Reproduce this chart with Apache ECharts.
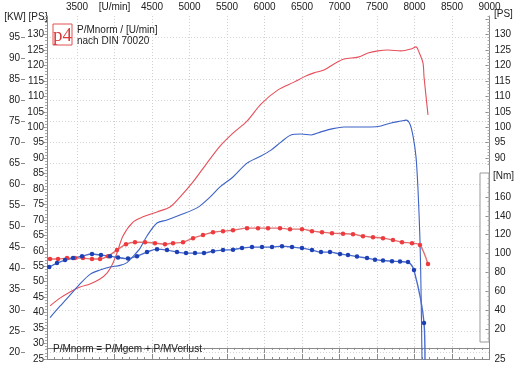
<!DOCTYPE html>
<html><head><meta charset="utf-8">
<script src="https://cdn.jsdelivr.net/npm/echarts@6/dist/echarts.min.js"></script>
<style>html,body{margin:0;padding:0;background:#fff}#c{width:522px;height:366px}</style>
</head><body><div id="c"></div>
<script>
// ---- data ----
const rpmMajor = [3500,4000,4500,5000,5500,6000,6500,7000,7500,8000,8500,9000];
const psLeftLabels = [25,30,35,40,45,50,55,60,65,70,75,80,85,90,95,100,105,110,115,120,125,130];
const psRightLabels = [25,90,95,100,105,110,115,120,125,130];
const kwLabels = [20,25,30,35,40,45,50,55,60,65,70,75,80,85,90,95];
const nmLabels = [20,40,60,80,100,120,140,160];

// P norm (PS) - red thin line
const pnormRpm = [3140,3273,3407,3540,3673,3807,3900,3967,4033,4113,4247,4380,4567,4740,4873,5047,5233,5407,5580,5767,5953,6180,6393,6527,6660,6793,6927,7060,7247,7380,7513,7647,7820,7953,8020,8060,8113,8127,8180];
const pnormPS  = [42.2,44.7,46.7,48.3,49.3,50.9,52.8,55.4,59.3,64.8,69.3,71.0,72.6,74.2,77.4,82.3,88.4,93.9,98.1,102.0,107.5,112.1,114.6,116.3,117.6,118.5,120.5,122.1,122.7,124.0,124.7,125.0,124.7,125.3,126.0,124.3,120.8,116.3,104.0];
// P gem (PS) - blue thin line
const pgemRpm = [3140,3273,3407,3540,3673,3807,3940,4073,4167,4247,4340,4433,4567,4700,4873,5100,5273,5407,5580,5767,5953,6087,6220,6353,6487,6620,6753,6887,7060,7247,7420,7553,7687,7820,7887,7940,7980,8020,8047,8073,8087,8100];
const pgemPS  = [38.4,42.1,45.7,49.3,52.4,53.8,54.8,55.3,56.2,58.2,60.8,64.8,69.0,70.0,71.6,73.9,77.4,80.7,83.9,88.4,90.7,92.6,95.2,97.5,97.8,97.5,98.5,99.4,100.1,100.1,100.1,100.4,101.4,102.0,102.3,101.0,97.2,90.4,79.7,63.5,47.3,25];
// M norm (Nm) - red with markers
const mnormRpm = [3140,3247,3367,3473,3580,3700,3807,3913,4033,4153,4273,4407,4540,4673,4780,4913,5047,5180,5313,5447,5580,5767,5913,6047,6207,6340,6500,6633,6767,6900,7047,7180,7313,7447,7580,7713,7833,7967,8073,8180];
const mnormNm  = [94.2,94.2,95.2,95.2,95.2,94.2,94.2,97.3,103.7,110.0,112.1,112.1,111.1,110.0,111.1,112.1,116.4,119.6,122.7,123.8,124.8,127.0,127.0,127.0,127.0,125.9,125.9,123.8,122.7,121.7,121.1,120.6,118.5,117.4,116.4,114.3,112.1,111.1,109.0,88.9];
// M gem (Nm) - blue with markers
const mgemRpm = [3130,3233,3340,3447,3567,3700,3820,3940,4047,4180,4300,4433,4567,4700,4833,4953,5073,5193,5313,5447,5580,5700,5833,5967,6100,6233,6367,6500,6633,6753,6873,7007,7113,7233,7367,7473,7580,7700,7807,7913,7993,8127,8140];
const mgemNm  = [85.7,89.9,93.1,95.2,97.3,99.5,98.4,97.3,95.8,94.7,97.3,101.6,104.7,103.7,101.6,100.5,100.5,100.5,102.6,103.7,104.2,105.8,106.9,106.9,106.9,107.9,106.9,105.8,103.7,101.6,101.6,99.5,98.4,96.8,95.2,93.6,92.6,92.0,91.5,91.0,82.5,26.5,-15];

const zip = (xs, ys) => xs.map((x, i) => [x, ys[i]]);
const range = (a, b, s) => { const r = []; for (let v = a; v <= b; v += s) r.push(v); return r; };

const FONT = 'Liberation Sans, Arial, sans-serif';
const AX = '#8a8a8a';
const TXT = '#222';
const lab = { fontSize: 10, color: TXT, fontFamily: FONT };
const PSMIN = 25, PSMAX = 136;
const KWMIN = PSMIN / 1.36, KWMAX = PSMAX / 1.36;

const chart = echarts.init(document.getElementById('c'), null, { renderer: 'canvas' });
chart.setOption({
  animation: false,
  backgroundColor: '#fff',
  grid: { left: 47, right: 32.5, top: 16, bottom: 7, containLabel: false },
  xAxis: [
    { type: 'value', position: 'top', min: 3100, max: 9000,
      axisLine: { show: true, lineStyle: { color: AX } },
      axisTick: { show: true, inside: true, length: 5, customValues: rpmMajor, lineStyle: { color: AX } },
      axisLabel: { ...lab, margin: 4, customValues: rpmMajor, formatter: v => v === 4000 ? '[U/min]' : String(v) },
      splitLine: { show: true, lineStyle: { color: '#cfcfcf', type: [1, 2] } } },
    { type: 'value', position: 'top', min: 3100, max: 9000, interval: 100,
      axisLine: { show: false }, axisTick: { show: true, inside: true, length: 2, lineStyle: { color: AX } },
      axisLabel: { show: false }, splitLine: { show: false } },
    { type: 'value', position: 'bottom', min: 3100, max: 9000,
      axisLine: { show: true, lineStyle: { color: AX } },
      axisTick: { show: true, inside: true, length: 5, customValues: rpmMajor, lineStyle: { color: AX } },
      axisLabel: { show: false }, splitLine: { show: false } },
    { type: 'value', position: 'bottom', min: 3100, max: 9000, interval: 100,
      axisLine: { show: false }, axisTick: { show: true, inside: true, length: 2, lineStyle: { color: AX } },
      axisLabel: { show: false }, splitLine: { show: false } }
  ],
  yAxis: [
    { type: 'value', position: 'left', min: PSMIN, max: PSMAX,
      axisLine: { show: true, lineStyle: { color: AX } },
      axisTick: { show: true, length: 3, customValues: range(25, 135, 5), lineStyle: { color: AX } },
      axisLabel: { ...lab, margin: 3, customValues: psLeftLabels },
      splitLine: { show: false } },
    { type: 'value', position: 'left', offset: 22, min: KWMIN, max: KWMAX,
      axisLine: { show: false },
      axisTick: { show: true, length: 4, customValues: kwLabels, lineStyle: { color: AX } },
      axisLabel: { ...lab, margin: 5, customValues: kwLabels },
      splitLine: { show: true, lineStyle: { color: '#d4d4d4', type: [1, 2] } } },
    { type: 'value', position: 'right', min: PSMIN, max: PSMAX,
      axisLine: { show: true, lineStyle: { color: AX } },
      axisTick: { show: true, inside: true, length: 4, customValues: [25].concat(range(90, 135, 5)), lineStyle: { color: AX } },
      axisLabel: { ...lab, margin: 5, customValues: psRightLabels },
      splitLine: { show: false } },
    { type: 'value', position: 'right', min: -11.8, max: 352, z: 5,
      axisLine: { show: false },
      axisTick: { show: true, inside: true, length: 4, customValues: nmLabels, lineStyle: { color: AX } },
      axisLabel: { ...lab, margin: 5, customValues: nmLabels },
      splitLine: { show: false } },
    { type: 'value', position: 'left', min: PSMIN, max: PSMAX, interval: 1,
      axisLine: { show: false }, axisTick: { show: true, length: 2, lineStyle: { color: '#aaa' } },
      axisLabel: { show: false }, splitLine: { show: false } },
    { type: 'value', position: 'right', min: PSMIN, max: PSMAX,
      axisLine: { show: false }, axisTick: { show: true, inside: true, length: 2, customValues: range(88, 136, 1), lineStyle: { color: '#aaa' } },
      axisLabel: { show: false }, splitLine: { show: false } },
    { type: 'value', position: 'right', min: -11.8, max: 352, z: 5,
      axisLine: { show: false }, axisTick: { show: true, inside: true, length: 2, customValues: range(10, 180, 5), lineStyle: { color: '#aaa' } },
      axisLabel: { show: false }, splitLine: { show: false } }
  ],
  graphic: [
    { type: 'rect', z: 1, shape: { x: 480, y: 173, width: 9, height: 169 }, style: { fill: '#fff', stroke: '#9a9a9a', lineWidth: 1 } },
    { type: 'text', x: 493, y: 176, style: { text: '[Nm]', font: '10px ' + FONT, fill: TXT, verticalAlign: 'middle' } },
    { type: 'text', x: 494, y: 14, style: { text: '[PS]', font: '10px ' + FONT, fill: TXT, verticalAlign: 'middle' } },
    { type: 'text', x: 15, y: 17, style: { text: '[KW]', font: '10px ' + FONT, fill: TXT, align: 'center', verticalAlign: 'middle' } },
    { type: 'text', x: 38, y: 17, style: { text: '[PS]', font: '10px ' + FONT, fill: TXT, align: 'center', verticalAlign: 'middle' } },
    { type: 'rect', z: 10, shape: { x: 53, y: 24, width: 19, height: 21 }, style: { fill: '#fff', stroke: '#e05050', lineWidth: 1 } },
    { type: 'text', z: 11, x: 62.5, y: 36, style: { text: 'p4', font: '19px Liberation Serif, serif', fill: '#d83a3a', align: 'center', verticalAlign: 'middle' } },
    { type: 'text', z: 10, x: 77, y: 30, style: { text: 'P/Mnorm / [U/min]', font: '10px ' + FONT, fill: TXT, verticalAlign: 'middle' } },
    { type: 'text', z: 10, x: 77, y: 41, style: { text: 'nach DIN 70020', font: '10px ' + FONT, fill: TXT, verticalAlign: 'middle' } },
    { type: 'text', z: 10, x: 53, y: 349, style: { text: 'P/Mnorm = P/Mgem + P/MVerlust', font: '10px ' + FONT, fill: TXT, verticalAlign: 'middle' } }
  ],
  series: [
    { name: 'Pnorm', type: 'line', xAxisIndex: 0, yAxisIndex: 0, data: zip(pnormRpm, pnormPS),
      smooth: 0.3, showSymbol: false, lineStyle: { color: '#e5505a', width: 1.1 }, itemStyle: { color: '#e5505a' }, z: 3 },
    { name: 'Pgem', type: 'line', xAxisIndex: 0, yAxisIndex: 0, data: zip(pgemRpm, pgemPS),
      smooth: 0.3, showSymbol: false, lineStyle: { color: '#3d62c6', width: 1.1 }, itemStyle: { color: '#3d62c6' }, z: 3 },
    { name: 'Mnorm', type: 'line', xAxisIndex: 0, yAxisIndex: 3, data: zip(mnormRpm, mnormNm),
      smooth: 0.3, symbol: 'circle', symbolSize: 4.5, lineStyle: { color: '#e07070', width: 1.4 }, itemStyle: { color: '#ee3a3e' }, z: 4 },
    { name: 'Mgem', type: 'line', xAxisIndex: 0, yAxisIndex: 3,
      data: zip(mgemRpm, mgemNm).map((p, i, a) => i === a.length - 1 ? { value: p, symbol: 'none' } : p),
      smooth: 0.3, symbol: 'circle', symbolSize: 4.5, lineStyle: { color: '#4a6ccc', width: 1.4 }, itemStyle: { color: '#1c3fb4' }, z: 4 }
  ]
});
</script></body></html>
